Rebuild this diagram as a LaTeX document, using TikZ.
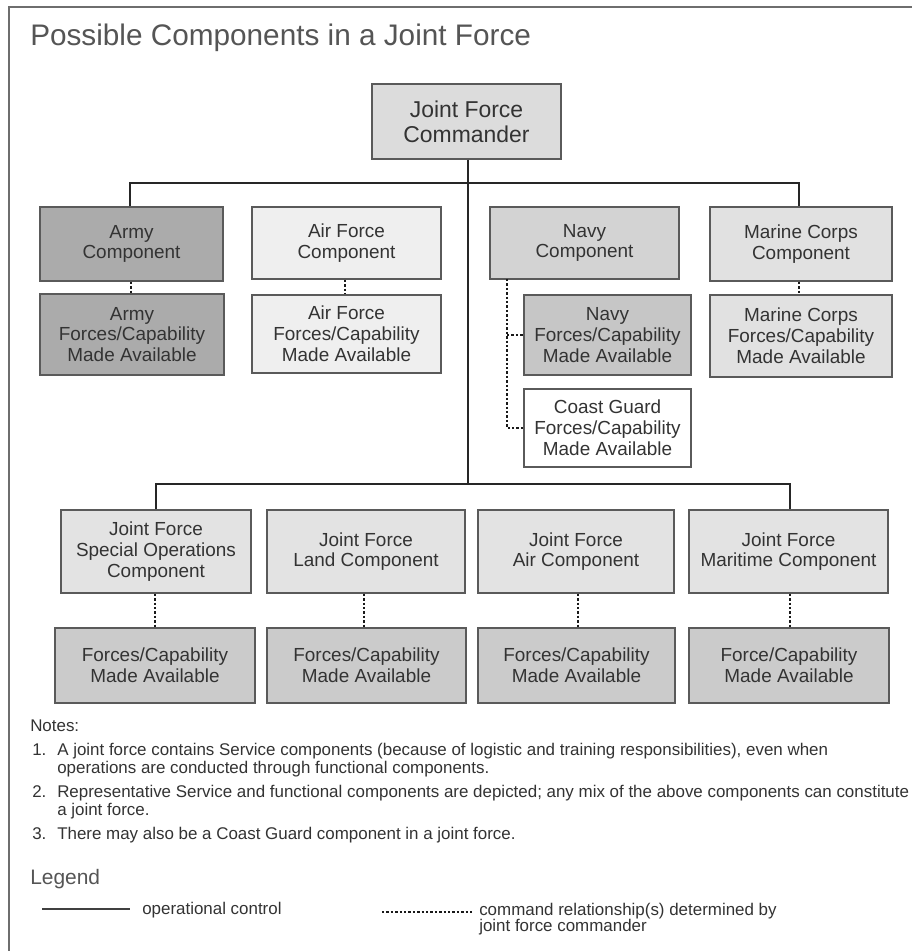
\documentclass[tikz,border=0pt]{standalone}
\usepackage{fontspec}
\setmainfont{Liberation Sans}
\usetikzlibrary{calc}
\definecolor{txt}{HTML}{333333}
\definecolor{titlec}{HTML}{555555}
\definecolor{edge}{HTML}{5A5A5A}
\definecolor{framec}{HTML}{6E6E6E}
\definecolor{fjfc}{HTML}{DCDCDC}
\definecolor{farmy}{HTML}{ABABAB}
\definecolor{fair}{HTML}{EFEFEF}
\definecolor{fnavy}{HTML}{D3D3D3}
\definecolor{fnavyf}{HTML}{C6C6C6}
\definecolor{fmar}{HTML}{E1E1E1}
\definecolor{fjf}{HTML}{E3E3E3}
\definecolor{fforce}{HTML}{CBCBCB}
\newcommand\boxfont{\fontsize{14.2pt}{15.6pt}\selectfont}
\newcommand\jfcfont{\fontsize{17.2pt}{18.8pt}\selectfont}
\newcommand\notefont{\fontsize{12.7pt}{13.5pt}\selectfont}
\tikzset{
  bx/.style 2 args={draw=edge, line width=1.1pt, minimum width=#1*0.75pt, minimum height=#2*0.75pt,
    inner sep=0pt, align=center, text=txt, font=\boxfont},
  opline/.style={draw=black!85, line width=1pt},
  cmdline/.style={draw=black!90, line width=2.2pt, dash pattern=on 1.8pt off 1.5pt},
  notetext/.style={anchor=base west, inner sep=0pt, text=txt, font=\notefont},
}
\begin{document}
\begin{tikzpicture}[x=0.75pt,y=-0.75pt]
\useasboundingbox (0,0) rectangle (912,951);
\fill[white] (0,0) rectangle (912,951);
% frame
\draw[framec, line width=1.6pt] (9,951) -- (9,7) -- (912,7);
% title
\node[anchor=base west, inner sep=0pt, text=titlec, font=\fontsize{22.3pt}{26pt}\selectfont] (title) at (30,45) {Possible Components in a Joint Force};

% commander
\node[bx={189}{75}, fill=fjfc, font=\jfcfont] (jfc) at (466.5,121.5) {Joint Force\\Commander};

% service components
\node[bx={183}{74}, fill=farmy] (army) at (131.5,244) {Army\\Component};
\node[bx={184}{81}, fill=farmy] (armyf) at (132,334.5) {Army\\Forces/Capability\\Made Available};
\node[bx={189}{72}, fill=fair] (air) at (346.5,243) {Air Force\\Component};
\node[bx={189}{78}, fill=fair] (airf) at (346.5,334) {Air Force\\Forces/Capability\\Made Available};
\node[bx={189}{72}, fill=fnavy] (navy) at (584.5,243) {Navy\\Component};
\node[bx={167}{80}, fill=fnavyf] (navyf) at (607.5,335) {Navy\\Forces/Capability\\Made Available};
\node[bx={167}{78}, fill=white] (cg) at (607.5,428) {Coast Guard\\Forces/Capability\\Made Available};
\node[bx={182}{74}, fill=fmar] (marine) at (801,244) {Marine Corps\\Component};
\node[bx={182}{82}, fill=fmar] (marinef) at (801,336) {Marine Corps\\Forces/Capability\\Made Available};

% functional components
\node[bx={190}{83}, fill=fjf] (jfsoc) at (156,551.5) {Joint Force\\Special Operations\\Component};
\node[bx={198}{83}, fill=fjf] (land) at (366,551.5) {Joint Force\\Land Component};
\node[bx={196}{83}, fill=fjf] (jfair) at (576,551.5) {Joint Force\\Air Component};
\node[bx={199}{83}, fill=fjf] (marit) at (788.5,551.5) {Joint Force\\Maritime Component};
\node[bx={200}{75}, fill=fforce] (f1) at (155,665.5) {Forces/Capability\\Made Available};
\node[bx={199}{75}, fill=fforce] (f2) at (366.5,665.5) {Forces/Capability\\Made Available};
\node[bx={197}{75}, fill=fforce] (f3) at (576.5,665.5) {Forces/Capability\\Made Available};
\node[bx={200}{75}, fill=fforce] (f4) at (789,665.5) {Force/Capability\\Made Available};

% connectors: operational control
\coordinate (tb) at (468,183);
\coordinate (lb) at (468,484);
\draw[opline] (jfc.south -| tb) -- (lb);
\draw[opline] (army.north -| 130,0) |- (tb) -| (marine.north -| 799,0);
\draw[opline] (air.north -| 346,0) -- (air.north -| 346,0 |- tb);
\draw[opline] (navy.north -| 585,0) -- (navy.north -| 585,0 |- tb);
\draw[opline] (jfsoc.north) |- (lb) -| (marit.north -| 790,0);
\draw[opline] (land.north -| 365,0) -- (land.north -| 365,0 |- lb);
\draw[opline] (jfair.north -| 578,0) -- (jfair.north -| 578,0 |- lb);

% connectors: command relationships
\draw[cmdline] (army.south -| 131,0) -- (armyf.north -| 131,0);
\draw[cmdline] (air.south -| 345,0) -- (airf.north -| 345,0);
\draw[cmdline] (marine.south -| 799,0) -- (marinef.north -| 799,0);
\coordinate (nd) at (507,279);
\draw[cmdline] (nd) |- (cg.west);
\draw[cmdline] (nd |- navyf.west) -- (navyf.west);
\draw[cmdline] (jfsoc.south -| 155,0) -- (f1.north -| 155,0);
\draw[cmdline] (land.south -| 364,0) -- (f2.north -| 364,0);
\draw[cmdline] (jfair.south -| 578,0) -- (f3.north -| 578,0);
\draw[cmdline] (marit.south -| 790,0) -- (f4.north -| 790,0);

% notes
\node[notetext] (notes) at (30,731) {Notes:};
\node[notetext] (n1) at (32,755) {1.};
\node[notetext] (n1a) at (57,755) {A joint force contains Service components (because of logistic and training responsibilities), even when};
\node[notetext] (n1b) at (57,773) {operations are conducted through functional components.};
\node[notetext] (n2) at (32,797) {2.};
\node[notetext] (n2a) at (57,797) {Representative Service and functional components are depicted; any mix of the above components can constitute};
\node[notetext] (n2b) at (57,815) {a joint force.};
\node[notetext] (n3) at (32,839) {3.};
\node[notetext] (n3a) at (57,839) {There may also be a Coast Guard component in a joint force.};

% legend
\node[anchor=base west, inner sep=0pt, text=titlec, font=\fontsize{15.7pt}{18pt}\selectfont] (legend) at (30,884) {Legend};
\coordinate (l1) at (42,909);
\coordinate (l2) at (130,909);
\draw[opline, draw=black!75] (l1) -- (l2);
\node[notetext] (lop) at (142,914) {operational control};
\coordinate (d1) at (382,912);
\coordinate (d2) at (473,912);
\draw[cmdline] (d1) -- (d2);
\node[notetext] (lcmd1) at (479,915) {command relationship(s) determined by};
\node[notetext] (lcmd2) at (479,931) {joint force commander};
\end{tikzpicture}
\end{document}
